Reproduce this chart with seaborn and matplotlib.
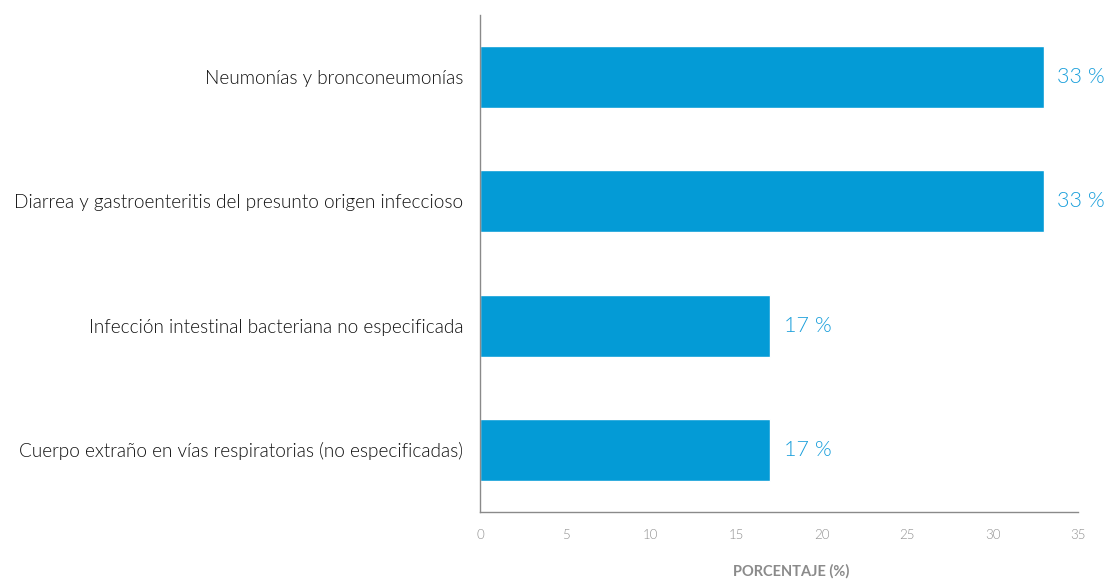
import matplotlib
matplotlib.use("Agg")
import matplotlib.pyplot as plt
import seaborn as sns
import pandas as pd

categories = [
    "Neumonías y bronconeumonías",
    "Diarrea y gastroenteritis del presunto origen infeccioso",
    "Infección intestinal bacteriana no especificada",
    "Cuerpo extraño en vías respiratorias (no especificadas)",
]
values = [33, 33, 17, 17]
value_labels = ["33 %", "33 %", "17 %", "17 %"]
x_ticks = [0, 5, 10, 15, 20, 25, 30, 35]

sns.set_theme(style="white")
plt.rcParams["font.family"] = ["Lato", "DejaVu Sans"]

df = pd.DataFrame({"causa": categories, "pct": values})

fig = plt.figure(figsize=(11.06, 5.8), dpi=100)
ax = fig.add_axes([480 / 1106, 1 - 512 / 580, 598 / 1106, 497 / 580])

sns.barplot(data=df, x="pct", y="causa", orient="h", color="#049BD6",
            saturation=1, width=0.5, ax=ax)

ax.set_xlim(0, 35)
ax.set_ylim(3.5, -0.5)
ax.set_xticks(x_ticks)
ax.set_xticklabels([str(t) for t in x_ticks])
ax.tick_params(axis="x", labelsize=9.5, labelcolor="#8f8f8f", length=0, pad=12)
ax.tick_params(axis="y", labelsize=13.7, labelcolor="#111111", length=0, pad=12)
for lab in ax.get_yticklabels():
    lab.set_fontweight(300)
for lab in ax.get_xticklabels():
    lab.set_fontweight(300)

for i, (v, lab) in enumerate(zip(values, value_labels)):
    ax.text(v + 0.8, i, lab, va="center", ha="left", fontsize=15.5,
            color="#1a9fdb", fontweight=300)

ax.set_ylabel("")
ax.set_xlabel("PORCENTAJE (%)", fontsize=10.5, fontweight="bold", color="#8a8a8a")
ax.xaxis.set_label_coords(0.52, -0.105)

for side in ["top", "right"]:
    ax.spines[side].set_visible(False)
for side in ["left", "bottom"]:
    ax.spines[side].set_color("#8a8a8a")
    ax.spines[side].set_linewidth(1)

fig.savefig("out.png", dpi=100, facecolor="white")
